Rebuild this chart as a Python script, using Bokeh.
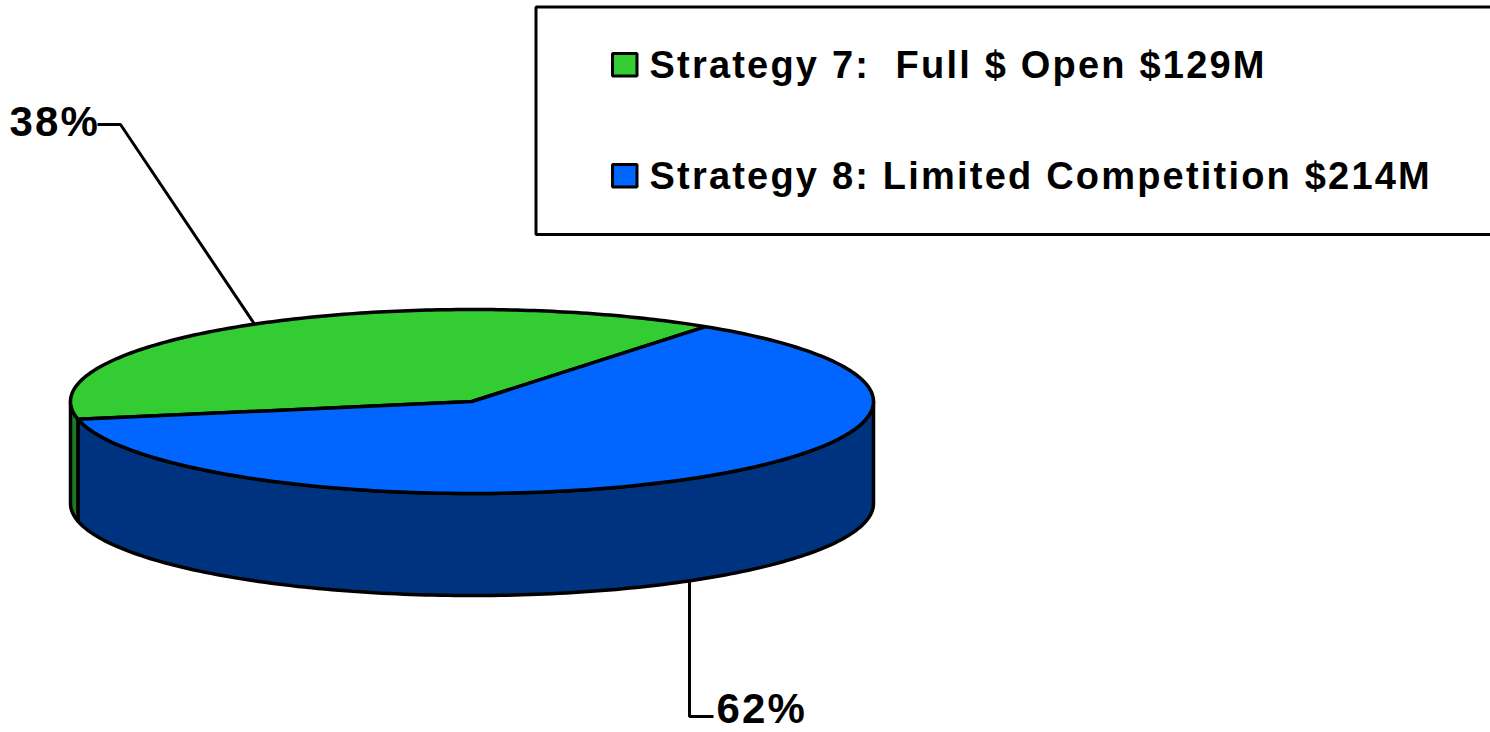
import numpy as np
from bokeh.plotting import figure
from bokeh.models import Range1d
from bokeh.core.properties import value
from bokeh.embed import file_html
from bokeh.resources import INLINE

legend_labels = ["Strategy 7:  Full $ Open $129M", "Strategy 8: Limited Competition $214M"]
amounts_musd = [129, 214]
shares_pct = [38, 62]
share_labels = ["38%", "62%"]
top_colors = ["#33CC33", "#0066FF"]
side_colors = ["#1F7A1F", "#00337F"]

W, H = 1490, 732
FONT = value("Liberation Sans")
CX, CY, RX, RY, DEPTH = 471.5, 401.0, 401.5, 92.0, 102.0
START = 54.4
BASE_SHIFT = 0.38  # the svg backend draws "alphabetic" text this many font sizes low

p = figure(width=W, height=H, x_range=Range1d(0, W), y_range=Range1d(H, 0),
           output_backend="svg", toolbar_location=None, min_border=0,
           outline_line_color=None, background_fill_color="white", border_fill_color="white",
           styles={"position": "absolute", "left": "0px", "top": "0px",
                   "letter-spacing": "2.2px"})
p.axis.visible = False
p.grid.visible = False


def arc(a0, a1, dy=0.0, n=160):
    t = np.radians(np.linspace(a0, a1, n))
    return CX + RX * np.cos(t), CY + dy - RY * np.sin(t)


def label(x, y, txt, size):
    p.text([x], [y - BASE_SHIFT * size], text=[txt], text_font=FONT, text_font_style="bold",
           text_font_size=f"{size}px", text_color="black", text_baseline="alphabetic",
           text_align="left")


sweeps = [s * 3.6 for s in shares_pct]
green_a = (START, START + sweeps[0])
blue_a = (green_a[1], green_a[1] + sweeps[1])

# side walls: the visible front half of the rim only
walls = [(180.0, green_a[1], side_colors[0]), (green_a[1], 360.0, side_colors[1])]
for a0, a1, col in walls:
    xt, yt = arc(a0, a1)
    xb, yb = arc(a1, a0, DEPTH)
    p.patch(np.r_[xt, xb], np.r_[yt, yb], fill_color=col, line_color="black",
            line_width=3.5, line_join="round")

# top faces
for (a0, a1), col in zip([green_a, blue_a], top_colors):
    x, y = arc(a0, a1)
    p.patch(np.r_[CX, x], np.r_[CY, y], fill_color=col, line_color="black",
            line_width=3.5, line_join="round")

# leader lines start on the rim at each slice's middle angle
mid0 = np.radians(sum(green_a) / 2)
mid1 = np.radians(sum(blue_a) / 2)
ax0, ay0 = CX + RX * np.cos(mid0), CY - RY * np.sin(mid0)
ax1, ay1 = CX + RX * np.cos(mid1), CY + DEPTH - RY * np.sin(mid1)
p.line([ax0, 120, 97], [ay0, 124, 124], line_color="black", line_width=3)
p.line([ax1, ax1, 713], [ay1, 716, 716], line_color="black", line_width=3)

label(9, 137, share_labels[0], 42)
label(716, 724, share_labels[1], 42)

# legend box runs off the right edge of the picture
p.line([W + 5, 535.5, 535.5, W + 5], [6.5, 6.5, 234, 234], line_color="black", line_width=3)
for lab, col, y0 in zip(legend_labels, top_colors, [53, 164]):
    p.quad(left=[612], right=[636.5], top=[y0], bottom=[y0 + 22.5], fill_color=col,
           line_color="black", line_width=3)
    # svg collapses runs of spaces, so the wide gap is kept with a no-break space
    label(649, y0 + 25.5, lab.replace("  ", "\u00a0 "), 38)

open("out.html", "w").write(file_html(p, INLINE))
